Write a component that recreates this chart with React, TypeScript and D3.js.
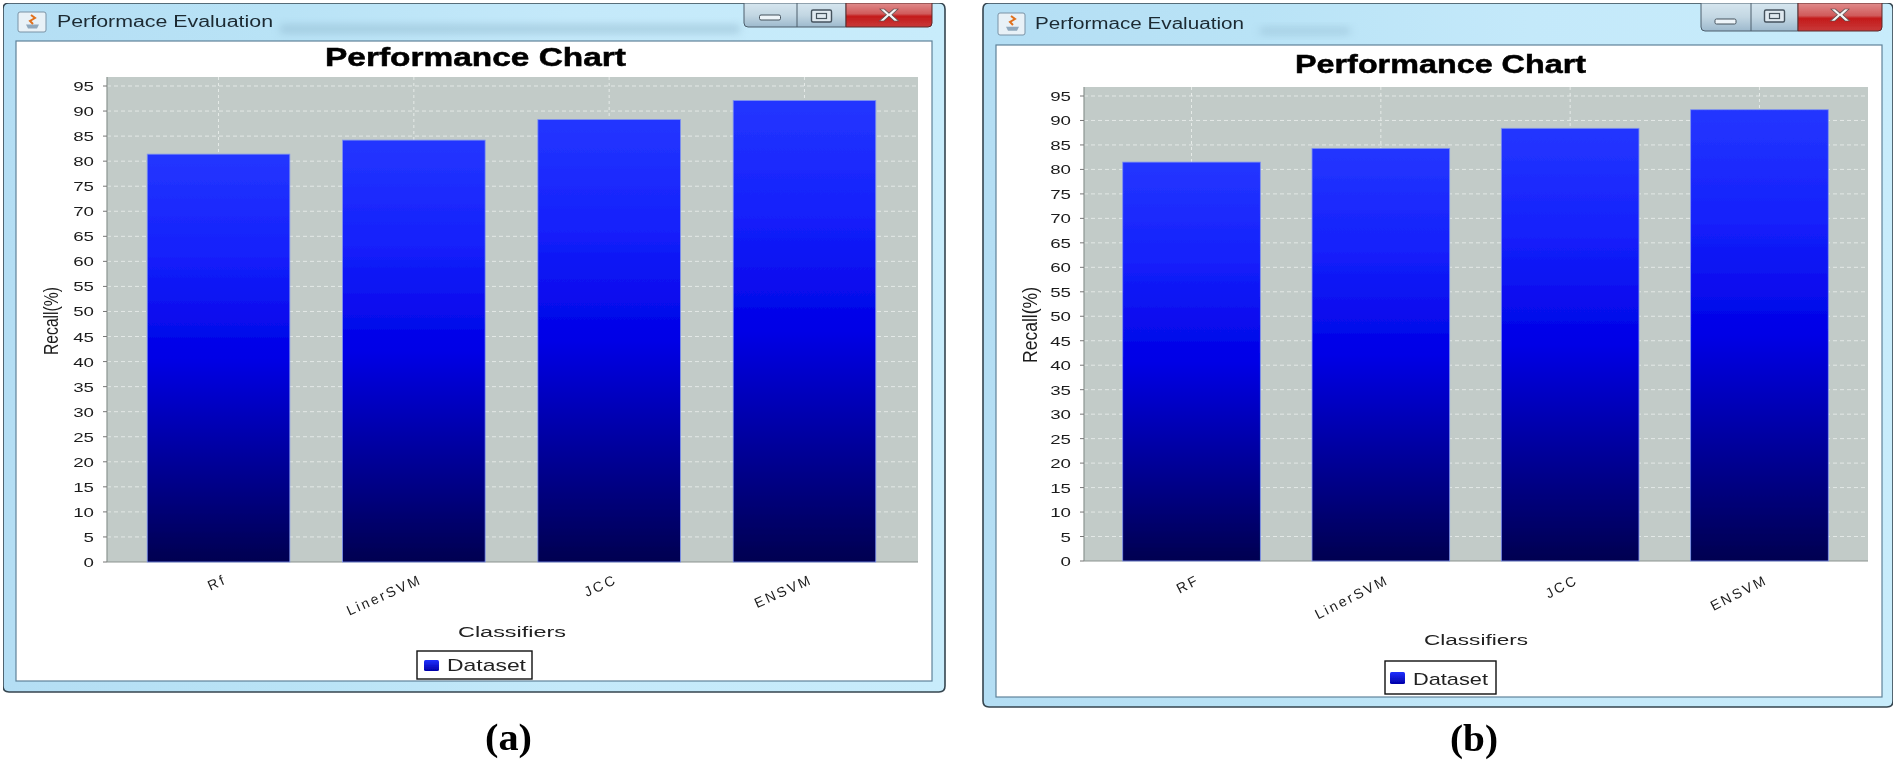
import React from "react";
import * as d3 from "d3";

const categoriesA = ["Rf", "LinerSVM", "JCC", "ENSVM"];
const categoriesB = ["RF", "LinerSVM", "JCC", "ENSVM"];
const recallA = [81.4, 84.2, 88.3, 92.1];
const recallB = [81.5, 84.3, 88.4, 92.2];
const yTicks = d3.range(0, 100, 5);
const windowTitle = "Performace Evaluation";
const chartTitle = "Performance Chart";
const xTitle = "Classifiers";
const yTitle = "Recall(%)";
const legendLabel = "Dataset";

const SANS = "'Liberation Sans', Arial, sans-serif";

const layoutA = {
  id: "a", caption: "(a)", captionX: 485, captionW: 47, captionY: 750,
  outer: [3, 3, 945, 692], inner: [16, 41, 932, 681],
  plot: [107, 77, 918, 562], y95: 86, q: 0.206, p: 0.27, rangeTrim: 2,
  titleX: 325, titleW: 301, titleY: 66, titleFs: 25,
  winX: 57, winW: 216, winY: 27, icon: [18, 12, 28, 20],
  btn: [744, 797, 846, 932, 27], smudge: [280, 25, 460, 8],
  tickEnd: 94, yTitleX: 58, yTitleCy: 321, yTitleLen: 68, yTitleFs: 20,
  labelDy: 574, labelAngle: -24,
  xTitleX: 458, xTitleW: 108, xTitleY: 637,
  legend: [417, 651, 532, 679], swatch: [424, 660, 15, 11], legX: 447, legW: 79, legY: 671,
};
const layoutB = {
  id: "b", caption: "(b)", captionX: 1450, captionW: 48, captionY: 751,
  outer: [983, 3, 1893, 707], inner: [996, 45, 1882, 697],
  plot: [1084, 87, 1868, 561], y95: 96, q: 0.2045, p: 0.273, rangeTrim: 1,
  titleX: 1295, titleW: 291, titleY: 73, titleFs: 26,
  winX: 1035, winW: 209, winY: 29, icon: [998, 13, 27, 22],
  btn: [1701, 1751, 1798, 1882, 31], smudge: [1260, 28, 90, 6],
  tickEnd: 1071, yTitleX: 1037, yTitleCy: 325, yTitleLen: 76, yTitleFs: 21,
  labelDy: 574, labelAngle: -27,
  xTitleX: 1424, xTitleW: 104, xTitleY: 645,
  legend: [1385, 661, 1496, 694], swatch: [1390, 672, 15, 12], legX: 1413, legW: 75, legY: 685,
};

function Panel({ L, categories, values }: any) {
  const [px0, py0, px1, py1] = L.plot;
  const [ox0, oy0, ox1, oy1] = L.outer;
  const [ix0, iy0, ix1, iy1] = L.inner;
  const y = d3.scaleLinear().domain([0, 95]).range([py1, L.y95]);
  const x = d3.scaleBand<string>().domain(categories).range([px0, px1 - L.rangeTrim]).paddingInner(L.p).paddingOuter(L.q);
  const [b0, b1, b2, b3, bh] = L.btn;
  const framePath = `M${ox0},${oy1 - 6} V${oy0 + 6} Q${ox0},${oy0} ${ox0 + 6},${oy0} H${ox1 - 6} Q${ox1},${oy0} ${ox1},${oy0 + 6} V${oy1 - 6} Q${ox1},${oy1} ${ox1 - 6},${oy1} H${ox0 + 6} Q${ox0},${oy1} ${ox0},${oy1 - 6} Z`;
  const [ic0, ic1, icw, ich] = L.icon;
  return (
    <g>
      <path d={framePath} fill={`url(#frame-${L.id})`} stroke="#36454f" strokeWidth={1.6} />
      <rect x={L.smudge[0]} y={L.smudge[1]} width={L.smudge[2]} height={L.smudge[3]} fill="#86aec4" opacity={0.5} filter="url(#smudge)" />
      <rect x={ix0} y={iy0} width={ix1 - ix0} height={iy1 - iy0} fill="#fff" stroke="#5f8299" strokeWidth={1.2} />

      {/* caption-bar controls */}
      <path d={`M${b0},${oy0} V${bh - 4} Q${b0},${bh} ${b0 + 4},${bh} H${b2} V${oy0} Z`} fill={`url(#btn-${L.id})`} stroke="#4d5f6d" strokeWidth={1} />
      <path d={`M${b2},${oy0} V${bh} H${b3 - 4} Q${b3},${bh} ${b3},${bh - 4} V${oy0} Z`} fill={`url(#close-${L.id})`} stroke="#5b2a2a" strokeWidth={1} />
      <line x1={b1} x2={b1} y1={oy0} y2={bh} stroke="#4d5f6d" />
      <rect x={(b0 + b1) / 2 - 11} y={bh - 12} width={21} height={5} rx={1.5} fill="#eef5fa" stroke="#45525d" />
      <rect x={(b1 + b2) / 2 - 10} y={oy0 + 7} width={20} height={12} rx={1.5} fill="#dfe9f0" stroke="#45525d" strokeWidth={1.4} />
      <rect x={(b1 + b2) / 2 - 5} y={oy0 + 10.5} width={10} height={5} fill="none" stroke="#45525d" strokeWidth={1.2} />
      <text x={(b2 + b3) / 2} y={oy0 + 18} textAnchor="middle" fontFamily={SANS} fontWeight={700} fontSize={17} textLength={20} lengthAdjust="spacingAndGlyphs" fill="#f4f4f4" stroke="#5a4a4a" strokeWidth={0.5}>X</text>

      {/* window icon */}
      <rect x={ic0} y={ic1} width={icw} height={ich} rx={2} fill="#e8f1f7" stroke="#7b93a6" />
      <path d={`M${ic0 + 8},${ic1 + ich * 0.62} h13 l-2,4 h-9 Z`} fill="#8fa8bd" />
      <path d={`M${ic0 + 13},${ic1 + 3} l4,3 -5,3 3,3`} fill="none" stroke="#e0701c" strokeWidth={2} />

      <text x={L.winX} y={L.winY} fontFamily={SANS} fontSize={16} fill="#1c2a33" textLength={L.winW} lengthAdjust="spacingAndGlyphs">{windowTitle}</text>
      <text x={L.titleX} y={L.titleY} fontFamily={SANS} fontWeight={700} fontSize={L.titleFs} fill="#000" stroke="#000" strokeWidth={0.5} textLength={L.titleW} lengthAdjust="spacingAndGlyphs">{chartTitle}</text>

      {/* plot area */}
      <rect x={px0} y={py0} width={px1 - px0} height={py1 - py0} fill="#c2cbc8" />
      {yTicks.map((t) => (
        <line key={t} x1={px0} x2={px1} y1={y(t)} y2={y(t)} stroke="#eef2f0" strokeWidth={1} strokeDasharray="4 3" opacity={t === 0 ? 0 : 0.75} />
      ))}
      {categories.map((c: string) => (
        <line key={c} x1={x(c)! + x.bandwidth() / 2} x2={x(c)! + x.bandwidth() / 2} y1={py0} y2={py1} stroke="#eef2f0" strokeDasharray="3 3" opacity={0.8} />
      ))}
      <line x1={px0} x2={px0} y1={py0} y2={py1} stroke="#8b9490" strokeWidth={1.2} />
      <line x1={px0} x2={px1} y1={py1} y2={py1} stroke="#8b9490" strokeWidth={1.2} />

      {categories.map((c: string, i: number) => (
        <rect key={c} x={x(c)} y={y(values[i])} width={x.bandwidth()} height={py1 - y(values[i])} fill="url(#barGrad)" stroke="#7d92f0" strokeWidth={0.8} />
      ))}

      {/* y axis */}
      {yTicks.map((t) => {
        const s = String(t);
        return (
          <g key={t}>
            <line x1={px0 - 4} x2={px0} y1={y(t)} y2={y(t)} stroke="#777" />
            <text x={L.tickEnd} y={y(t) + 5} textAnchor="end" fontFamily={SANS} fontSize={13.5} fill="#1c1c1c" textLength={s.length * 10.4} lengthAdjust="spacingAndGlyphs">{s}</text>
          </g>
        );
      })}
      <text transform={`translate(${L.yTitleX},${L.yTitleCy}) rotate(-90)`} textAnchor="middle" fontFamily={SANS} fontSize={L.yTitleFs} fill="#1c1c1c" textLength={L.yTitleLen} lengthAdjust="spacingAndGlyphs">{yTitle}</text>

      {/* x axis */}
      {categories.map((c: string) => (
        <text key={c} transform={`translate(${x(c)! + x.bandwidth() / 2 + 9},${L.labelDy + 9}) rotate(${L.labelAngle})`} textAnchor="end" fontFamily={SANS} fontSize={14} fill="#1c1c1c" letterSpacing={2.4}>{c}</text>
      ))}
      <text x={L.xTitleX} y={L.xTitleY} fontFamily={SANS} fontSize={15.5} fill="#222" textLength={L.xTitleW} lengthAdjust="spacingAndGlyphs">{xTitle}</text>

      {/* legend */}
      <rect x={L.legend[0]} y={L.legend[1]} width={L.legend[2] - L.legend[0]} height={L.legend[3] - L.legend[1]} fill="#fff" stroke="#111" strokeWidth={1.4} />
      <rect x={L.swatch[0]} y={L.swatch[1]} width={L.swatch[2]} height={L.swatch[3]} rx={1.5} fill="url(#swatchGrad)" />
      <text x={L.legX} y={L.legY} fontFamily={SANS} fontSize={17} fill="#222" textLength={L.legW} lengthAdjust="spacingAndGlyphs">{legendLabel}</text>

      <text x={L.captionX} y={L.captionY} fontFamily="'Liberation Serif', serif" fontWeight={700} fontSize={38} fill="#000" textLength={L.captionW} lengthAdjust="spacingAndGlyphs">{L.caption}</text>
    </g>
  );
}

function FrameDefs({ L }: any) {
  return (
    <>
      <linearGradient id={`frame-${L.id}`} x1="0" y1="0" x2="1" y2="0">
        <stop offset="0" stopColor="#b4def4" />
        <stop offset="0.3" stopColor="#b9e3f6" />
        <stop offset="0.6" stopColor="#c4e9fa" />
        <stop offset="1" stopColor="#c8ecfb" />
      </linearGradient>
      <linearGradient id={`btn-${L.id}`} x1="0" y1="0" x2="0" y2="1">
        <stop offset="0" stopColor="#d6e6ef" />
        <stop offset="0.5" stopColor="#c3d7e3" />
        <stop offset="1" stopColor="#9db9cd" />
      </linearGradient>
      <linearGradient id={`close-${L.id}`} x1="0" y1="0" x2="0" y2="1">
        <stop offset="0" stopColor="#e08c8c" />
        <stop offset="0.45" stopColor="#d05a5a" />
        <stop offset="0.55" stopColor="#c41a1a" />
        <stop offset="1" stopColor="#c83a3a" />
      </linearGradient>
    </>
  );
}

export default function App() {
  return (
    <svg width={1898} height={763} style={{ position: "absolute", left: 0, top: 0, background: "#fff" }}>
      <defs>
        <linearGradient id="barGrad" x1="0" y1="0" x2="0" y2="1">
          <stop offset="0" stopColor="#2436ff" />
          <stop offset="0.25" stopColor="#1420fb" />
          <stop offset="0.5" stopColor="#0000e6" />
          <stop offset="0.75" stopColor="#00009a" />
          <stop offset="1" stopColor="#000050" />
        </linearGradient>
        <linearGradient id="swatchGrad" x1="0" y1="0" x2="0" y2="1">
          <stop offset="0" stopColor="#2030ff" />
          <stop offset="1" stopColor="#0000a8" />
        </linearGradient>
        <filter id="soft" x="0" y="0" width="100%" height="100%">
          <feGaussianBlur stdDeviation="0.45" />
        </filter>
        <filter id="smudge" x="-10%" y="-100%" width="120%" height="300%">
          <feGaussianBlur stdDeviation="4" />
        </filter>
        <FrameDefs L={layoutA} />
        <FrameDefs L={layoutB} />
      </defs>
      <g filter="url(#soft)">
        <Panel L={layoutA} categories={categoriesA} values={recallA} />
        <Panel L={layoutB} categories={categoriesB} values={recallB} />
      </g>
    </svg>
  );
}
